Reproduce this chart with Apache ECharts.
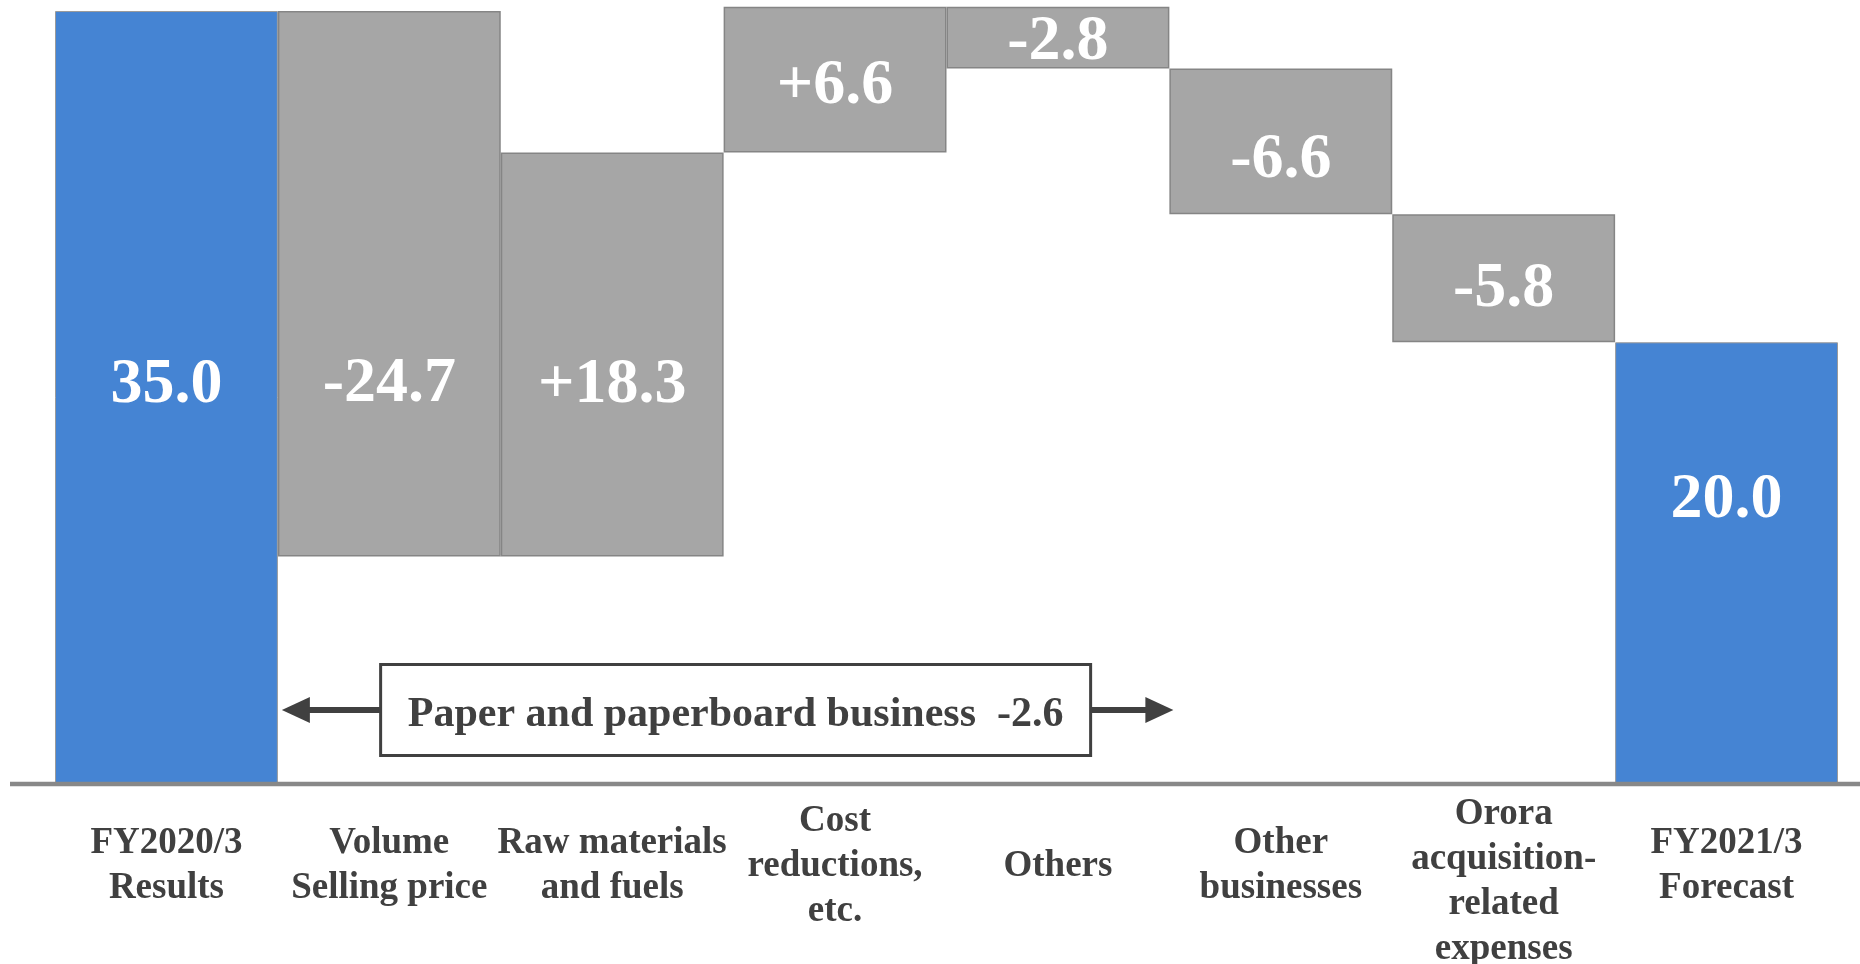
<!DOCTYPE html>
<html>
<head>
<meta charset="utf-8">
<script src="https://cdn.jsdelivr.net/npm/echarts@6/dist/echarts.min.js"></script>
<style>
  html, body { margin: 0; padding: 0; background: #fff; }
  #main { width: 1860px; height: 964px; }
</style>
</head>
<body>
<div id="main"></div>
<script>
var categories = [
  'FY2020/3\nResults',
  'Volume\nSelling price',
  'Raw materials\nand fuels',
  'Cost\nreductions,\netc.',
  'Others',
  'Other\nbusinesses',
  'Orora\nacquisition-\nrelated\nexpenses',
  'FY2021/3\nForecast'
];
var startValue = 35.0;
var changes = [-24.7, 18.3, 6.6, -2.8, -6.6, -5.8];
var endValue = 20.0;
var bracketText = 'Paper and paperboard business  -2.6';
var bracketFrom = 1, bracketTo = 4;   // categories the bracket spans

// label nudges (px) so numbers sit where the slide put them
var labelShift = [-12, 101, 31, 7, 5, 19, 11, -63];

var BLUE = '#4584d3', GRAY = '#a6a6a6', TEXT = '#404040';
var FONT = '"Liberation Serif", "Times New Roman", serif';

// waterfall: invisible base + visible piece
var base = [0], piece = [startValue], texts = [startValue.toFixed(1)];
var running = startValue;
changes.forEach(function (d) {
  var next = running + d;
  base.push(Math.min(running, next));
  piece.push(Math.abs(d));
  texts.push((d > 0 ? '+' : '') + d.toFixed(1));
  running = next;
});
base.push(0); piece.push(endValue); texts.push(endValue.toFixed(1));

var chart = echarts.init(document.getElementById('main'));

var pieceData = piece.map(function (v, i) {
  var total = (i === 0 || i === piece.length - 1);
  return {
    value: v,
    itemStyle: total
      ? { color: BLUE, borderColor: '#9a9a9a', borderWidth: 1 }
      : { color: GRAY, borderColor: '#858585', borderWidth: 1.5 },
    label: { offset: [0, labelShift[i]] }
  };
});

chart.setOption({
  animation: false,
  grid: { left: 55, right: 22, top: 0, bottom: 180, outerBoundsMode: 'none', containLabel: false },
  xAxis: {
    type: 'category',
    data: categories,
    axisLine: { show: false },
    axisTick: { show: false },
    axisLabel: {
      interval: 0,
      margin: 82,
      verticalAlign: 'middle',
      fontFamily: FONT,
      fontWeight: 'bold',
      fontSize: 37,
      lineHeight: 45,
      color: TEXT,
      // 4-line label sits a little lower on the slide
      formatter: function (v) {
        return v.split('\n').length > 3 ? '{s| }\n' + v : v;
      },
      rich: { s: { fontSize: 1, lineHeight: 31 } }
    }
  },
  yAxis: { type: 'value', min: 0, max: 35.5, show: false, splitLine: { show: false } },
  series: [
    {
      type: 'bar', stack: 'w', silent: true,
      barCategoryGap: '0%',
      itemStyle: { color: 'transparent' },
      data: base
    },
    {
      type: 'bar', stack: 'w',
      barCategoryGap: '0%',
      data: pieceData,
      label: {
        show: true,
        position: 'inside',
        formatter: function (p) { return texts[p.dataIndex]; },
        color: '#fff',
        fontFamily: FONT,
        fontWeight: 'bold',
        fontSize: 64
      }
    }
  ]
});

// baseline + bracket arrows drawn from the axis positions
var y0 = chart.convertToPixel({ gridIndex: 0 }, [0, 0])[1];
var c0 = chart.convertToPixel({ gridIndex: 0 }, [0, 0])[0];
var c1 = chart.convertToPixel({ gridIndex: 0 }, [1, 0])[0];
var half = (c1 - c0) / 2;
var leftTip = chart.convertToPixel({ gridIndex: 0 }, [bracketFrom, 0])[0] - half + 4;
var rightTip = chart.convertToPixel({ gridIndex: 0 }, [bracketTo, 0])[0] + half + 4;
var boxW = 710, boxH = 91;
var boxX = (leftTip + rightTip) / 2 - boxW / 2 + 8;
var arrowY = y0 - 74;
var boxY = arrowY - boxH / 2;

chart.setOption({
  graphic: [
    { type: 'line', z: 10, shape: { x1: 10, y1: y0, x2: 1860, y2: y0 },
      style: { stroke: '#888', lineWidth: 4.5 } },
    { type: 'line', shape: { x1: leftTip + 26, y1: arrowY, x2: boxX, y2: arrowY },
      style: { stroke: TEXT, lineWidth: 6 } },
    { type: 'polygon', shape: { points: [[leftTip, arrowY], [leftTip + 28, arrowY - 13], [leftTip + 28, arrowY + 13]] },
      style: { fill: TEXT } },
    { type: 'line', shape: { x1: boxX + boxW, y1: arrowY, x2: rightTip - 26, y2: arrowY },
      style: { stroke: TEXT, lineWidth: 6 } },
    { type: 'polygon', shape: { points: [[rightTip, arrowY], [rightTip - 28, arrowY - 13], [rightTip - 28, arrowY + 13]] },
      style: { fill: TEXT } },
    { type: 'rect', shape: { x: boxX, y: boxY, width: boxW, height: boxH },
      style: { fill: '#fff', stroke: TEXT, lineWidth: 3 } },
    { type: 'text', x: boxX + boxW / 2, y: arrowY + 5,
      style: { text: bracketText, align: 'center', verticalAlign: 'middle',
        font: 'bold 42px ' + FONT, fill: TEXT } }
  ]
});
</script>
</body>
</html>
